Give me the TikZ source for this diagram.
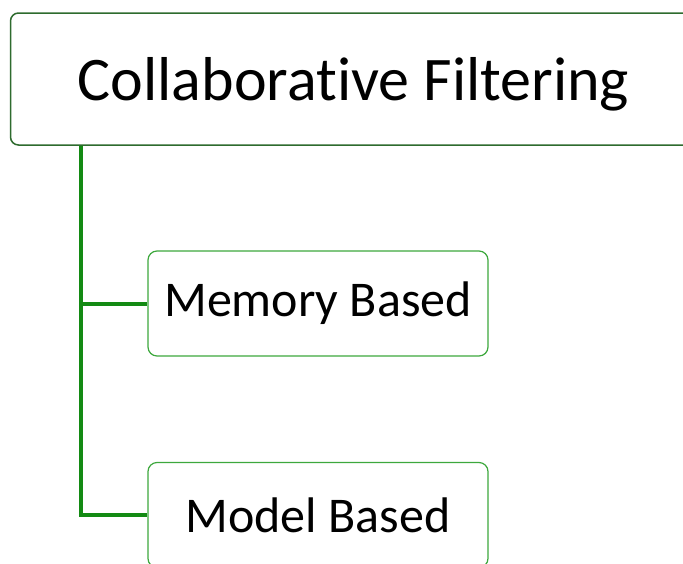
\documentclass[tikz,border=0pt]{standalone}
\usepackage{fontspec}
\setmainfont{Carlito}[Ligatures=NoCommon]
\usetikzlibrary{positioning}
\definecolor{rootline}{HTML}{2E6B2E}
\definecolor{branch}{HTML}{138A13}
\definecolor{leafline}{HTML}{3DA83D}
\begin{document}
\begin{tikzpicture}[x=1pt,y=-1pt,
    root/.style={draw=rootline,line width=1.5pt,rounded corners=8pt,fill=white,
      minimum width=686pt,minimum height=132pt},
    bigtext/.style={font=\fontsize{62}{74}\selectfont},
    leaf/.style={draw=leafline,line width=1.2pt,rounded corners=9pt,fill=white,
      minimum width=340pt,minimum height=105pt,font=\fontsize{50}{60}\selectfont}]
  \useasboundingbox (0,0) rectangle (683,563);
  \node[root] (cf) at (353.5,79) {};
  \node[bigtext] (cftext) at (353.5,84) {Collaborative Filtering};
  \node[leaf] (mem) at (318,303.5) {Memory Based};
  \node[leaf] (mod) at (318,515) {Model Based};
  \coordinate (trunk) at (cf.south -| 81,0);
  \foreach \n in {mem,mod}
    \draw[branch,line width=4pt] (trunk) |- (\n.west);
\end{tikzpicture}
\end{document}
